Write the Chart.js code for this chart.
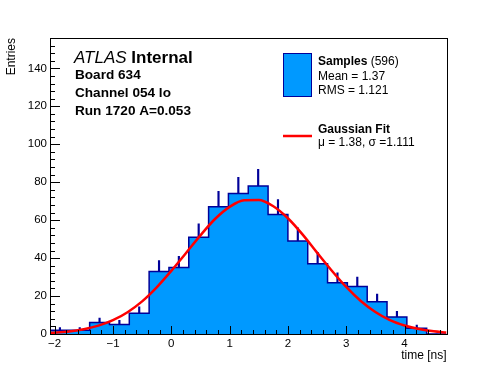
<!DOCTYPE html>
<html>
<head>
<meta charset="utf-8">
<script src="https://cdn.jsdelivr.net/npm/chart.js@4"></script>
<style>
  html, body { margin: 0; padding: 0; background: #fff; }
  #wrap { width: 496px; height: 372px; }
</style>
</head>
<body>
<div id="wrap"><canvas id="timeChart" width="496" height="372"></canvas></div>
<script>
// Histogramme : 20 bins de 0.34 ns entre -2.08 et 4.72
const binLow = -2.08;
const binWidth = 0.34;
const counts = [2, 2, 6, 5, 11, 33, 35, 51, 67, 74, 78, 63, 49, 37, 27, 25, 17, 9, 3, 0];
const errors = [1.4, 1.4, 2.4, 2.2, 3.3, 5.7, 5.9, 7.1, 8.2, 8.6, 8.8, 7.9, 7.0, 6.1, 5.2, 5.0, 4.1, 3.0, 1.7, 0];

// Courbe du fit gaussien
const fitX = [-2.08, -1.75, -1.5, -1.25, -1.0, -0.75, -0.5, -0.25, 0, 0.25, 0.5, 0.75, 1.0, 1.25,
              1.5, 1.75, 2.0, 2.25, 2.5, 2.75, 3.0, 3.25, 3.5, 3.75, 4.0, 4.25, 4.5, 4.72];
const fitY = [0.6, 1.3, 2.5, 4.4, 7.3, 11.5, 17.2, 24.6, 33.3, 42.6, 52.0, 60.6, 67.0, 70.5,
              70.6, 67.3, 61.0, 52.5, 42.9, 33.5, 24.8, 17.4, 11.6, 7.3, 4.5, 2.6, 1.4, 0.8];

// Axes
const xTicks = [-2, -1, 0, 1, 2, 3, 4];
const yTicks = [0, 20, 40, 60, 80, 100, 120, 140];
const xMin = -2.08, xMax = 4.72;
const yMin = 0, yMax = 156;

// Textes
const labelLines = ['Board 634', 'Channel 054 lo', 'Run 1720 A=0.053'];
const legendSamples = ['Samples', ' (596)', 'Mean = 1.37', 'RMS = 1.121'];
const legendFit = ['Gaussian Fit', '\u03bc = 1.38, \u03c3 =1.111'];

const FONT = '"Liberation Sans", Arial, Helvetica, sans-serif';
const FILL = 'rgb(0, 153, 255)';
const EDGE = 'rgb(0, 0, 153)';

Chart.defaults.font.family = FONT;
Chart.defaults.color = '#000';

// Points du contour en escalier
const histPts = [{ x: binLow, y: 0 }];
counts.forEach((c, i) => histPts.push({ x: binLow + i * binWidth, y: c }));
histPts.push({ x: binLow + counts.length * binWidth, y: counts[counts.length - 1] });
histPts.push({ x: binLow + counts.length * binWidth, y: 0 });

const errPts = counts.map((c, i) => ({ x: binLow + (i + 0.5) * binWidth, y: [c - errors[i], c + errors[i]] }));
const fitPts = fitX.map((x, i) => ({ x: x, y: fitY[i] }));

// Graduations style ROOT, cadre et textes
const rootStyle = {
    id: 'rootStyle',
    afterDraw(chart) {
        const ctx = chart.ctx;
        const a = chart.chartArea;
        const xs = chart.scales.x, ys = chart.scales.y;
        ctx.save();
        ctx.strokeStyle = '#000';
        ctx.lineWidth = 1;
        ctx.beginPath();
        // graduations x
        for (let k = -10; k <= 23; k++) {
            const v = k / 5;
            if (v < xMin || v > xMax) continue;
            const px = Math.round(xs.getPixelForValue(v)) + 0.5;
            const len = (k % 5 === 0) ? 8 : 4;
            ctx.moveTo(px, a.bottom);
            ctx.lineTo(px, a.bottom - len);
        }
        // graduations y
        for (let v = 0; v <= yMax; v += 4) {
            const py = Math.round(ys.getPixelForValue(v)) + 0.5;
            const len = (v % 20 === 0) ? 10 : 5;
            ctx.moveTo(a.left, py);
            ctx.lineTo(a.left + len, py);
        }
        ctx.stroke();
        ctx.strokeRect(Math.round(a.left) + 0.5, Math.round(a.top) + 0.5,
                       Math.round(a.right - a.left), Math.round(a.bottom - a.top));

        // ATLAS Internal
        ctx.fillStyle = '#000';
        ctx.textBaseline = 'alphabetic';
        ctx.textAlign = 'left';
        ctx.font = 'italic 17px ' + FONT;
        ctx.fillText('ATLAS', 74, 63);
        const w = ctx.measureText('ATLAS ').width;
        ctx.font = 'bold 17px ' + FONT;
        ctx.fillText('Internal', 74 + w, 63);
        ctx.font = 'bold 13.6px ' + FONT;
        labelLines.forEach((t, i) => ctx.fillText(t, 75, 78.5 + i * 18));

        // Légende
        ctx.fillStyle = FILL;
        ctx.fillRect(283.5, 53.5, 28, 43);
        ctx.strokeStyle = EDGE;
        ctx.strokeRect(283.5, 53.5, 28, 43);
        ctx.fillStyle = '#000';
        ctx.font = 'bold 12px ' + FONT;
        ctx.fillText(legendSamples[0], 318, 65);
        const ws = ctx.measureText(legendSamples[0]).width;
        ctx.font = '12px ' + FONT;
        ctx.fillText(legendSamples[1], 318 + ws, 65);
        ctx.fillText(legendSamples[2], 318, 79.5);
        ctx.fillText(legendSamples[3], 318, 94);

        ctx.strokeStyle = '#ff0000';
        ctx.lineWidth = 2.5;
        ctx.beginPath();
        ctx.moveTo(283, 136);
        ctx.lineTo(312, 136);
        ctx.stroke();
        ctx.font = 'bold 12px ' + FONT;
        ctx.fillText(legendFit[0], 318, 133);
        ctx.font = '12px ' + FONT;
        ctx.fillText(legendFit[1], 318, 146);
        ctx.restore();
    }
};

const ctx = document.getElementById('timeChart').getContext('2d');
const timeChart = new Chart(ctx, {
    type: 'line',
    data: {
        datasets: [
            {
                type: 'bar',
                label: 'errors',
                data: errPts,
                backgroundColor: EDGE,
                borderWidth: 0,
                barThickness: 1.5,
                order: 3
            },
            {
                type: 'line',
                label: 'Samples',
                data: histPts,
                stepped: true,
                fill: 'origin',
                backgroundColor: FILL,
                borderColor: EDGE,
                borderWidth: 1.5,
                pointRadius: 0,
                order: 2
            },
            {
                type: 'line',
                label: 'Gaussian Fit',
                data: fitPts,
                borderColor: '#ff0000',
                borderWidth: 2.5,
                cubicInterpolationMode: 'monotone',
                pointRadius: 0,
                fill: false,
                order: 1
            }
        ]
    },
    options: {
        responsive: false,
        animation: false,
        devicePixelRatio: 1,
        layout: { padding: { left: 0, top: 38, right: 49.5, bottom: 0 } },
        plugins: { legend: { display: false }, tooltip: { enabled: false } },
        scales: {
            x: {
                type: 'linear',
                min: xMin,
                max: xMax,
                offset: false,
                grid: { display: false, drawTicks: false, offset: false },
                border: { display: true, color: '#000', width: 1 },
                afterBuildTicks: s => { s.ticks = xTicks.map(v => ({ value: v })); },
                afterFit: s => { s.height = 38; },
                ticks: {
                    padding: 3,
                    maxRotation: 0,
                    autoSkip: false,
                    font: { size: 11.5 },
                    callback: v => v < 0 ? '\u2212' + Math.abs(v) : String(v)
                },
                title: {
                    display: true,
                    text: 'time [ns]',
                    align: 'end',
                    font: { size: 12 },
                    padding: { top: 0, bottom: 9 }
                }
            },
            y: {
                type: 'linear',
                min: yMin,
                max: yMax,
                grid: { display: false, drawTicks: false },
                border: { display: true, color: '#000', width: 1 },
                afterBuildTicks: s => { s.ticks = yTicks.map(v => ({ value: v })); },
                afterFit: s => { s.width = 50; },
                ticks: { padding: 3, autoSkip: false, font: { size: 11.5 } },
                title: {
                    display: true,
                    text: 'Entries',
                    align: 'end',
                    font: { size: 12 },
                    padding: { top: 4.6, bottom: 0 }
                }
            }
        }
    },
    plugins: [rootStyle]
});
</script>
</body>
</html>
